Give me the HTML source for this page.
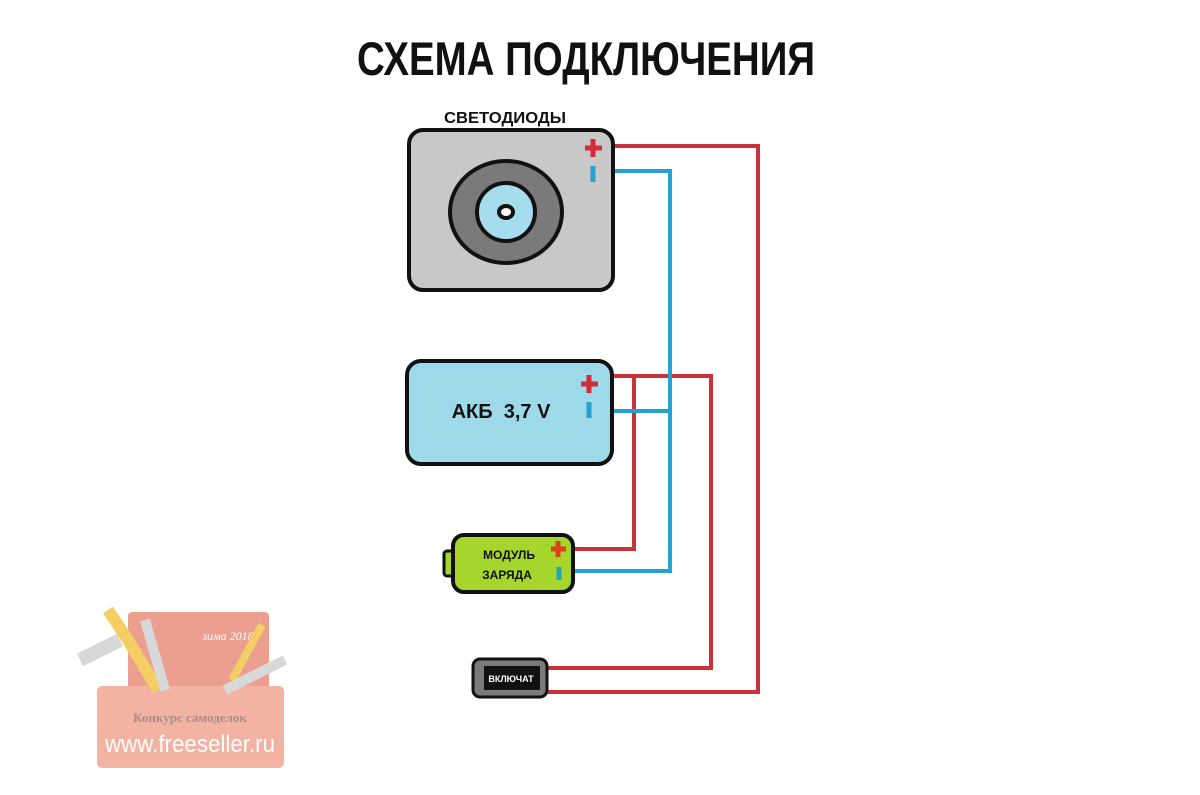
<!DOCTYPE html>
<html><head><meta charset="utf-8"><style>html,body{margin:0;padding:0;background:#fff}svg{display:block}</style></head>
<body>
<svg width="1200" height="795" viewBox="0 0 1200 795" xmlns="http://www.w3.org/2000/svg" font-family="'Liberation Sans','DejaVu Sans',sans-serif">
<text x="586" y="75" text-anchor="middle" font-size="47" font-weight="bold" fill="#111" textLength="458" lengthAdjust="spacingAndGlyphs">СХЕМА ПОДКЛЮЧЕНИЯ</text>
<text x="505" y="123" text-anchor="middle" font-size="16" font-weight="bold" fill="#111" textLength="122" lengthAdjust="spacingAndGlyphs">СВЕТОДИОДЫ</text>
<g fill="none" stroke-width="4">
<polyline points="612,146 758,146 758,692 546,692" stroke="#c8323a"/>
<polyline points="612,376 711,376 711,668 546,668" stroke="#c8323a"/>
<polyline points="634,376 634,549 573,549" stroke="#c8323a"/>
<polyline points="612,171 670,171 670,571 573,571" stroke="#2aa0d0"/>
<polyline points="612,411 670,411" stroke="#2aa0d0"/>
</g>
<rect x="409" y="130" width="204" height="160" rx="14" fill="#c8c8c8" stroke="#111" stroke-width="4"/>
<ellipse cx="506" cy="212" rx="56" ry="51" fill="#7a7a7a" stroke="#111" stroke-width="4"/>
<ellipse cx="506" cy="212" rx="29" ry="29" fill="#a5dcee" stroke="#111" stroke-width="4"/>
<ellipse cx="506" cy="212" rx="7" ry="6" fill="#fff" stroke="#111" stroke-width="4"/>
<path d="M585,148 h17 M593,139 v18" stroke="#d42c36" stroke-width="5"/>
<path d="M593,166 v16" stroke="#2aa0d0" stroke-width="5"/>
<rect x="407" y="361" width="205" height="103" rx="14" fill="#9ed9ea" stroke="#111" stroke-width="4"/>
<text x="501" y="418" text-anchor="middle" font-size="20" font-weight="bold" fill="#111" xml:space="preserve">АКБ  3,7 V</text>
<path d="M581,384 h17 M589,375 v18" stroke="#d42c36" stroke-width="5"/>
<path d="M589,402 v16" stroke="#2aa0d0" stroke-width="5"/>
<rect x="444" y="551" width="14" height="25" rx="3" fill="#a6d62c" stroke="#111" stroke-width="3"/>
<rect x="453" y="535" width="120" height="57" rx="11" fill="#a6d62c" stroke="#111" stroke-width="4"/>
<text x="509" y="559" text-anchor="middle" font-size="12" font-weight="bold" fill="#111">МОДУЛЬ</text>
<text x="507" y="579" text-anchor="middle" font-size="12" font-weight="bold" fill="#111">ЗАРЯДА</text>
<path d="M551,549 h15 M558,541 v16" stroke="#d9421c" stroke-width="5"/>
<path d="M559,567 v13" stroke="#20a8b8" stroke-width="5"/>
<rect x="473" y="659" width="74" height="38" rx="7" fill="#7a7a7a" stroke="#111" stroke-width="3"/>
<rect x="484" y="666" width="56" height="24" fill="#111"/>
<text x="511" y="682" text-anchor="middle" font-size="9" font-weight="bold" fill="#fff">ВКЛЮЧАТ</text>
<g opacity="0.75">
<rect x="128" y="612" width="141" height="80" rx="4" fill="#e8806a"/>
<rect x="97" y="686" width="187" height="82" rx="5" fill="#f09a85"/>
<text x="228" y="640" text-anchor="middle" font-size="12" font-style="italic" fill="#fff" font-family="'Liberation Serif',serif">зима 2018</text>
<text x="190" y="722" text-anchor="middle" font-size="13" font-weight="bold" fill="#8a6a60" font-family="'Liberation Serif',serif">Конкурс самоделок</text>
<text x="190" y="752" text-anchor="middle" font-size="24" fill="#fff" textLength="170" lengthAdjust="spacingAndGlyphs">www.freeseller.ru</text>
<path d="M108,610 l20,30 l30,50" stroke="#f0c030" stroke-width="12" fill="none"/>
<path d="M145,620 l20,70" stroke="#ccc" stroke-width="10"/>
<path d="M80,660 l40,-20" stroke="#ccc" stroke-width="14"/>
<path d="M262,625 l-30,55" stroke="#f0c030" stroke-width="8"/>
<path d="M285,660 l-60,30" stroke="#ccc" stroke-width="10"/>
</g>
</svg>
</body></html>
